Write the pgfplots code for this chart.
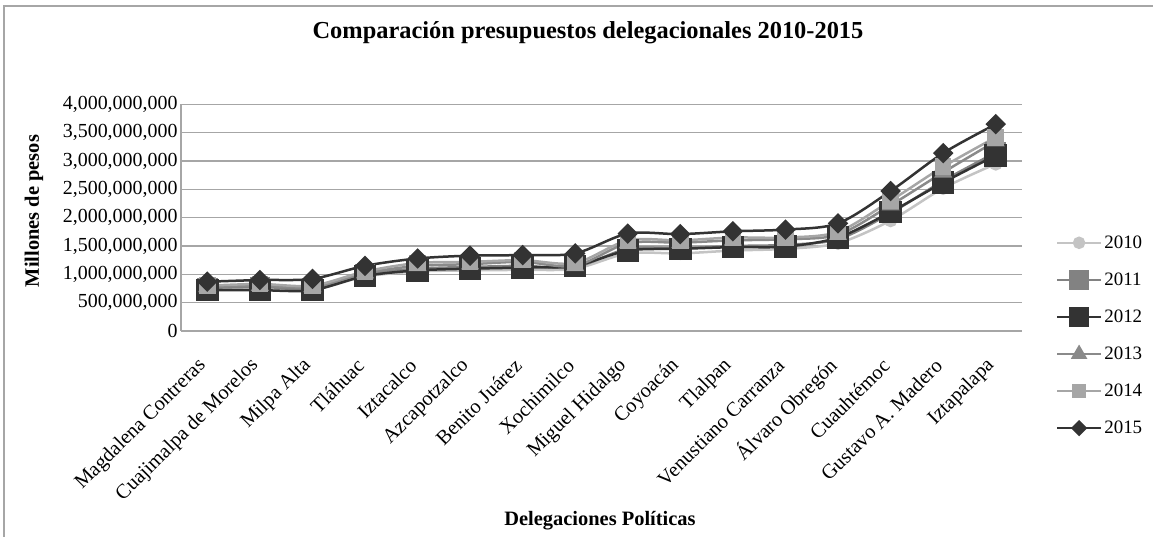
\documentclass[border=0pt]{standalone}
\usepackage{fontspec}
\setmainfont{Liberation Serif}
\usepackage{pgfplots}
\pgfplotsset{compat=1.18}
\definecolor{c2010}{HTML}{C4C4C4}
\definecolor{c2011}{HTML}{828282}
\definecolor{c2012}{HTML}{333333}
\definecolor{c2013}{HTML}{8A8A8A}
\definecolor{c2014}{HTML}{A6A6A6}
\definecolor{c2015}{HTML}{333333}
\definecolor{gridc}{HTML}{A6A6A6}
\begin{document}
\begin{tikzpicture}
\useasboundingbox (0bp,0bp) rectangle (1153bp,537bp);
\draw[gridc, line width=1.5bp] (4bp,0bp) -- (4bp,531bp) -- (1153bp,531bp);
\node[font=\fontsize{24.5}{27}\selectfont\bfseries] at (588bp,504bp) {Comparación presupuestos delegacionales 2010-2015};
\node[font=\fontsize{20.5}{23}\selectfont\bfseries, rotate=90] at (34bp,326bp) {Millones de pesos};
\node[font=\fontsize{20.5}{23}\selectfont\bfseries] at (600bp,16bp) {Delegaciones Políticas};
\begin{axis}[
  at={(181bp,206bp)}, anchor=south west,
  width=841bp, height=226.6bp, scale only axis,
  xmin=-0.5, xmax=15.5, ymin=0, ymax=4e9,
  axis lines*=left,
  axis line style={gridc, line width=1.5bp},
  ymajorgrids, grid style={gridc, line width=1.2bp},
  major tick length=0pt,
  ytick={0,5e8,1e9,1.5e9,2e9,2.5e9,3e9,3.5e9,4e9},
  scaled y ticks=false,
  yticklabel style={font=\fontsize{20}{22}\selectfont, /pgf/number format/.cd, fixed, precision=0, 1000 sep={,}, assume math mode=true},
  yticklabel={\pgfmathprintnumber{\tick}},
  xtick={0,...,15},
  xticklabels={Magdalena Contreras,Cuajimalpa de Morelos,Milpa Alta,Tláhuac,Iztacalco,Azcapotzalco,Benito Juárez,Xochimilco,Miguel Hidalgo,Coyoacán,Tlalpan,Venustiano Carranza,Álvaro Obregón,Cuauhtémoc,Gustavo A. Madero,Iztapalapa},
  xticklabel style={font=\fontsize{20.5}{22}\selectfont, xshift=-3bp, yshift=-30bp, rotate=45, anchor=east, inner sep=2bp},
  legend style={at={(1.04,0.43)}, anchor=north west, draw=none, fill=none, font=\fontsize{19}{21}\selectfont, row sep=19bp, inner sep=0pt},
  legend cell align=left,
  legend image code/.code={\draw[mark repeat=2,mark phase=2] plot coordinates {(0bp,0bp)(22bp,0bp)(44bp,0bp)};},
  every axis plot/.append style={line width=2.5bp, smooth},
  clip=false,
]
\addplot[c2010, mark=*, mark size=5.5bp, mark options={solid, fill=c2010, draw=c2010}, forget plot] coordinates {
(0,0.74e9)(1,0.76e9)(2,0.73e9)(3,0.96e9)(4,1.05e9)(5,1.07e9)(6,1.08e9)(7,1.10e9)(8,1.37e9)(9,1.37e9)(10,1.42e9)(11,1.45e9)(12,1.55e9)(13,1.95e9)(14,2.52e9)(15,2.95e9)};
\addplot[c2011, mark=square*, mark size=9bp, mark options={solid, fill=c2011, draw=c2011}, forget plot] coordinates {
(0,0.76e9)(1,0.78e9)(2,0.75e9)(3,1.00e9)(4,1.10e9)(5,1.13e9)(6,1.15e9)(7,1.13e9)(8,1.45e9)(9,1.46e9)(10,1.50e9)(11,1.52e9)(12,1.62e9)(13,2.08e9)(14,2.65e9)(15,3.15e9)};
\addplot[c2012, mark=square*, mark size=10bp, mark options={solid, fill=c2012, draw=c2012}, forget plot] coordinates {
(0,0.72e9)(1,0.72e9)(2,0.72e9)(3,0.97e9)(4,1.07e9)(5,1.10e9)(6,1.12e9)(7,1.15e9)(8,1.42e9)(9,1.45e9)(10,1.48e9)(11,1.49e9)(12,1.65e9)(13,2.10e9)(14,2.62e9)(15,3.10e9)};
\addplot[c2013, mark=triangle*, mark size=8bp, mark options={solid, fill=c2013, draw=c2013}, forget plot] coordinates {
(0,0.78e9)(1,0.80e9)(2,0.78e9)(3,1.02e9)(4,1.15e9)(5,1.18e9)(6,1.22e9)(7,1.15e9)(8,1.55e9)(9,1.56e9)(10,1.60e9)(11,1.62e9)(12,1.70e9)(13,2.22e9)(14,2.80e9)(15,3.35e9)};
\addplot[c2014, mark=square*, mark size=7bp, mark options={solid, fill=c2014, draw=c2014}, forget plot] coordinates {
(0,0.80e9)(1,0.83e9)(2,0.80e9)(3,1.05e9)(4,1.20e9)(5,1.22e9)(6,1.25e9)(7,1.20e9)(8,1.60e9)(9,1.60e9)(10,1.65e9)(11,1.65e9)(12,1.75e9)(13,2.30e9)(14,2.90e9)(15,3.42e9)};
\addplot[c2015, mark=square*, mark size=6bp, mark options={solid, fill=c2015, draw=c2015, rotate=45}, forget plot] coordinates {
(0,0.87e9)(1,0.90e9)(2,0.92e9)(3,1.15e9)(4,1.28e9)(5,1.33e9)(6,1.34e9)(7,1.37e9)(8,1.72e9)(9,1.71e9)(10,1.76e9)(11,1.79e9)(12,1.90e9)(13,2.47e9)(14,3.14e9)(15,3.65e9)};
\addlegendimage{c2010, line width=2.5bp, mark=*, mark size=5bp, mark options={fill=c2010, draw=c2010}}
\addlegendentry{2010}
\addlegendimage{c2011, line width=2.5bp, mark=square*, mark size=8.5bp, mark options={fill=c2011, draw=c2011}}
\addlegendentry{2011}
\addlegendimage{c2012, line width=2.5bp, mark=square*, mark size=8.5bp, mark options={fill=c2012, draw=c2012}}
\addlegendentry{2012}
\addlegendimage{c2013, line width=2.5bp, mark=triangle*, mark size=7bp, mark options={fill=c2013, draw=c2013}}
\addlegendentry{2013}
\addlegendimage{c2014, line width=2.5bp, mark=square*, mark size=5.5bp, mark options={fill=c2014, draw=c2014}}
\addlegendentry{2014}
\addlegendimage{c2015, line width=2.5bp, mark=square*, mark size=4.5bp, mark options={fill=c2015, draw=c2015, rotate=45}}
\addlegendentry{2015}
\end{axis}
\end{tikzpicture}
\end{document}
